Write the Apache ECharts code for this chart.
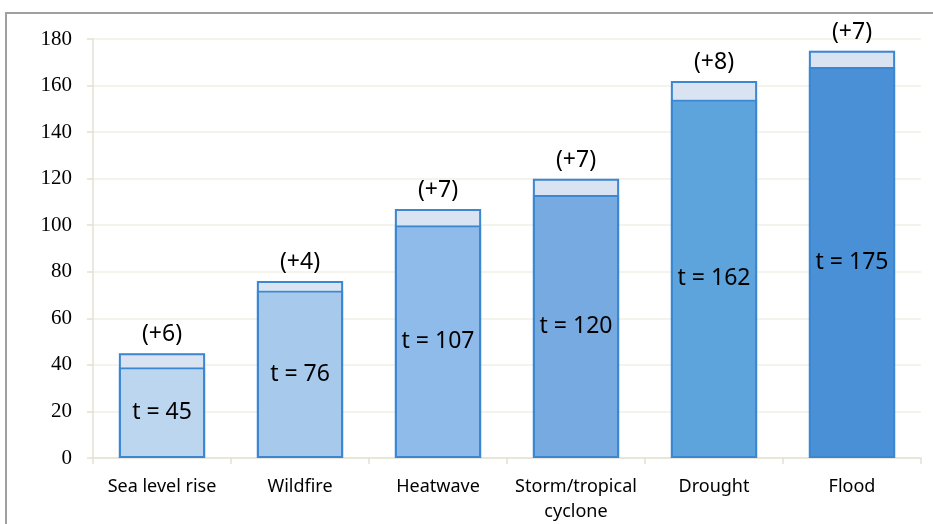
<!DOCTYPE html>
<html>
<head>
<meta charset="utf-8">
<script src="https://cdn.jsdelivr.net/npm/echarts@6/dist/echarts.min.js"></script>
<style>
  html, body { margin: 0; padding: 0; background: #ffffff; }
  #chart { width: 933px; height: 524px; }
</style>
</head>
<body>
<div id="chart"></div>
<script>
// Hazard categories, total counts and the recent increase on top of each
var categories = ['Sea level rise', 'Wildfire', 'Heatwave', 'Storm/tropical\ncyclone', 'Drought', 'Flood'];
var totals = [45, 76, 107, 120, 162, 175];
var increments = [6, 4, 7, 7, 8, 7];
var baseColors = ['#bdd6ef', '#a7c9ec', '#8fbbea', '#78aae2', '#5ea4dc', '#4a90d6'];
var yTicks = [0, 20, 40, 60, 80, 100, 120, 140, 160, 180];

var baseValues = totals.map(function (t, i) { return t - increments[i]; });

var chart = echarts.init(document.getElementById('chart'));

var borderColor = '#3b87d2';
var gap = '37.5%';

chart.setOption({
  animation: false,
  grid: { left: 93, right: 12, top: 39, bottom: 66 },
  graphic: [{
    type: 'rect',
    shape: { x: 6, y: 13, width: 1000, height: 600 },
    style: { fill: 'none', stroke: '#a0a0a0', lineWidth: 2 },
    silent: true
  }],
  xAxis: {
    type: 'category',
    data: categories,
    axisLine: { lineStyle: { color: '#e4e1d2', width: 1.5 } },
    axisTick: { show: true, length: 6, lineStyle: { color: '#e4e1d2', width: 1.5 } },
    axisLabel: {
      interval: 0,
      color: '#000000',
      fontFamily: 'Noto Sans',
      fontSize: 18,
      lineHeight: 25,
      margin: 16
    }
  },
  yAxis: {
    type: 'value',
    min: yTicks[0],
    max: yTicks[yTicks.length - 1],
    interval: 20,
    axisLine: { show: true, lineStyle: { color: '#e4e1d2', width: 1.5 } },
    axisTick: { show: true, length: 6, lineStyle: { color: '#e4e1d2', width: 1.5 } },
    splitLine: { lineStyle: { color: '#f1efe6', width: 1.5 } },
    axisLabel: {
      color: '#000000',
      fontFamily: 'Liberation Serif',
      fontSize: 21,
      margin: 21
    }
  },
  series: [
    {
      // lower part of each bar, outlined so its top edge marks the split
      type: 'bar',
      stack: 'total',
      barCategoryGap: gap,
      barGap: '-100%',
      data: baseValues.map(function (v, i) {
        return { value: v, itemStyle: { color: baseColors[i] } };
      }),
      itemStyle: { borderColor: borderColor, borderWidth: 2 },
      label: {
        show: true,
        position: 'inside',
        color: '#000000',
        fontFamily: 'Noto Sans',
        fontSize: 23,
        formatter: function (p) { return 't = ' + totals[p.dataIndex]; }
      }
    },
    {
      // recent increase on top
      type: 'bar',
      stack: 'total',
      barCategoryGap: gap,
      barGap: '-100%',
      data: increments,
      itemStyle: { color: '#dae3f1', borderWidth: 0 },
      label: {
        show: true,
        position: 'top',
        distance: 7,
        color: '#000000',
        fontFamily: 'Noto Sans',
        fontSize: 23,
        formatter: function (p) { return '(+' + increments[p.dataIndex] + ')'; }
      }
    },
    {
      // outline around the full bar
      type: 'bar',
      stack: 'outline',
      barCategoryGap: gap,
      barGap: '-100%',
      z: 3,
      silent: true,
      data: totals,
      itemStyle: { color: 'rgba(0,0,0,0)', borderColor: borderColor, borderWidth: 2 },
      label: { show: false }
    }
  ]
});
</script>
</body>
</html>
